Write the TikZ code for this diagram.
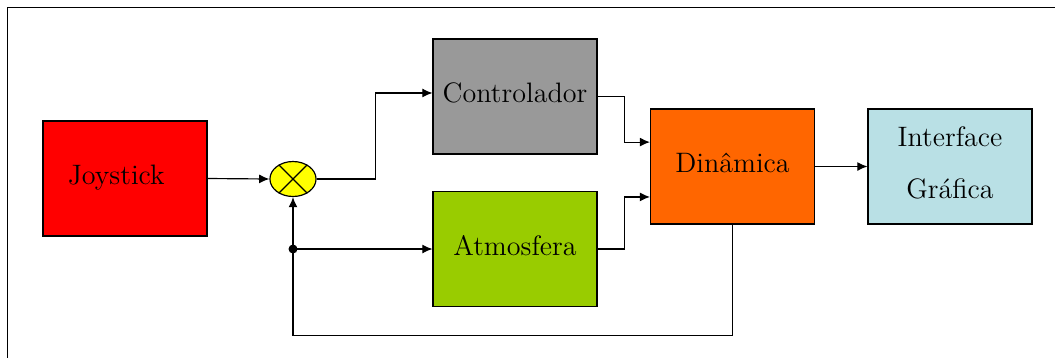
\documentclass[tikz,border=0pt]{standalone}
\usetikzlibrary{arrows.meta, shapes.geometric}
\definecolor{cred}{HTML}{FF0000}
\definecolor{cgrey}{HTML}{999999}
\definecolor{cgreen}{HTML}{99CC00}
\definecolor{corange}{HTML}{FF6600}
\definecolor{clblue}{HTML}{B9E0E5}
\definecolor{cyellow}{HTML}{FFFF00}
\tikzset{
  every picture/.style={line width=0.6pt},
  block/.style={draw, fill=#1, align=center, font=\Large, text depth=4pt, minimum width=2.95cm, minimum height=2.07cm},
  block/.default=white,
  arrow/.style={-{Latex[length=5.2pt, width=4.6pt]}},
  summer/.style={draw, ellipse, fill=cyellow, inner sep=0pt, minimum width=0.83cm, minimum height=0.63cm},
}

\begin{document}
\begin{tikzpicture}[x=0.018cm, y=-0.018cm]
  \useasboundingbox (0,0) rectangle (1055,357);
  \draw[line width=0.8pt] (7.5,380) -- (7.5,7.5) -- (1080,7.5);
  % blocks
  \node[block=cred] (joy) at (125,178.5) {Joystick\hspace{9pt}};
  \node[summer] (sum) at (293,179) {};
  \draw (sum.45) -- (sum.225) (sum.135) -- (sum.315);
  \node[block=cgrey] (ctrl) at (515,96.5) {Controlador};
  \node[block=cgreen] (atm) at (515,249) {Atmosfera};
  \node[block=corange] (din) at (732.5,166.5) {Din\^amica};
  \node[block=clblue] (gui) at (950,166.5) {Interface\\[8.5pt]Gr\'afica};
  \coordinate (split) at (293,249);
  % connections
  \draw[arrow] (joy.east) -- (sum.west);
  \draw[arrow] (sum.east) -- ++(59,0) |- ([yshift=1.8pt]ctrl.west);
  \draw[arrow] (ctrl.east) -- ++(27,0) |- ([yshift=12.5pt]din.west);
  \draw[arrow] (atm.east) -- ++(27,0) |- ([yshift=-15.6pt]din.west);
  \draw[arrow] (din.east) -- (gui.west);
  % feedback
  \draw[arrow] (din.south) -- ++(0,111) -| (sum.south);
  \fill (split) circle (2.3pt);
  \draw[arrow] (split) -- (atm.west);
\end{tikzpicture}
\end{document}
